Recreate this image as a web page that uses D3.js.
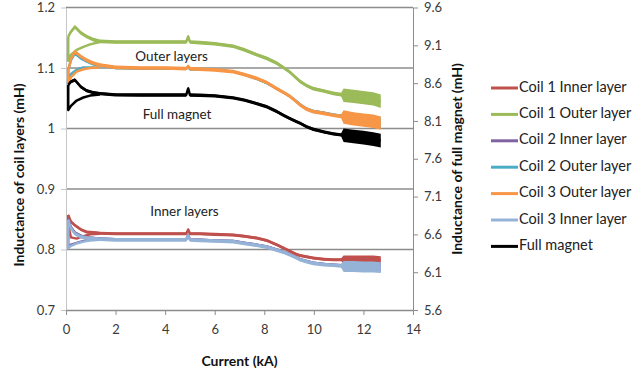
<!DOCTYPE html>
<html>
<head>
<meta charset="utf-8">
<script src="https://cdn.jsdelivr.net/npm/d3@7"></script>
<style>
  body { margin: 0; background: #fff; }
  svg { display: block; font-family: Lato, "Open Sans", sans-serif; }
</style>
</head>
<body>
<div id="chart"></div>
<script>
// current grid (kA) for the ramp branch, and for the low start-up branch
const current = [0.09, 0.2, 0.36, 0.6, 0.83, 1.1, 1.37, 2, 3, 4, 4.85, 4.93, 5.0, 5.4, 6, 6.75, 7.2, 7.69,
  8.1, 8.5, 8.8, 9.04, 9.3, 9.44, 9.7, 9.97, 10.4, 10.78, 11.1, 11.2, 11.6, 12.0, 12.4, 12.7];
const lowCurrent = [0.09, 0.2, 0.43, 0.7, 0.97, 1.37];
const noisyFrom = 11.15; // above this current the traces get much noisier

// coil layers (mH, left axis)
const coil1Inner = [0.857, 0.846, 0.840, 0.833, 0.829, 0.828, 0.827, 0.826, 0.826, 0.826, 0.826, 0.833, 0.826, 0.826,
  0.825, 0.824, 0.822, 0.819, 0.815, 0.808, 0.802, 0.797, 0.792, 0.790, 0.788, 0.786, 0.784, 0.783, 0.783, 0.784,
  0.784, 0.784, 0.784, 0.783];
const coil1InnerLow = [0.840, 0.820, 0.818, 0.822, 0.825, 0.826];

const coil1Outer = [1.152, 1.160, 1.168, 1.158, 1.152, 1.147, 1.144, 1.143, 1.143, 1.143, 1.143, 1.152, 1.143, 1.142,
  1.140, 1.136, 1.130, 1.122, 1.116, 1.108, 1.100, 1.093, 1.083, 1.078, 1.071, 1.066, 1.062, 1.058, 1.056, 1.055,
  1.053, 1.051, 1.049, 1.045];
const coil1OuterLow = [1.112, 1.122, 1.130, 1.135, 1.139, 1.143];

const coil2Inner = [0.851, 0.837, 0.828, 0.823, 0.820, 0.819, 0.818, 0.817, 0.817, 0.817, 0.817, 0.824, 0.817, 0.816,
  0.815, 0.814, 0.811, 0.808, 0.805, 0.800, 0.796, 0.792, 0.787, 0.784, 0.781, 0.778, 0.776, 0.775, 0.774, 0.773,
  0.773, 0.772, 0.772, 0.771];
const coil2InnerLow = [0.805, 0.808, 0.811, 0.814, 0.816, 0.817];

const coil2Outer = [1.097, 1.113, 1.124, 1.116, 1.111, 1.106, 1.104, 1.100, 1.099, 1.099, 1.099, 1.102, 1.098, 1.098,
  1.097, 1.094, 1.089, 1.082, 1.075, 1.066, 1.059, 1.053, 1.045, 1.040, 1.033, 1.029, 1.026, 1.023, 1.021, 1.020,
  1.017, 1.015, 1.013, 1.010];
const coil2OuterLow = [1.080, 1.090, 1.097, 1.101, 1.101, 1.101];

const coil3Outer = [1.095, 1.115, 1.127, 1.119, 1.113, 1.108, 1.105, 1.101, 1.100, 1.100, 1.099, 1.103, 1.099, 1.098,
  1.097, 1.094, 1.089, 1.083, 1.076, 1.066, 1.059, 1.053, 1.044, 1.039, 1.032, 1.028, 1.025, 1.022, 1.020, 1.019,
  1.016, 1.014, 1.012, 1.009];
const coil3OuterLow = [1.075, 1.085, 1.094, 1.098, 1.100, 1.101];

const coil3Inner = [0.849, 0.835, 0.826, 0.821, 0.819, 0.818, 0.817, 0.816, 0.816, 0.816, 0.816, 0.823, 0.816, 0.815,
  0.814, 0.813, 0.810, 0.807, 0.804, 0.799, 0.795, 0.791, 0.786, 0.783, 0.780, 0.777, 0.775, 0.774, 0.773, 0.772,
  0.772, 0.771, 0.771, 0.770];
const coil3InnerLow = [0.802, 0.806, 0.810, 0.813, 0.815, 0.816];

// full magnet (mH, right axis)
const fullMagnet = [8.575, 8.620, 8.641, 8.550, 8.500, 8.475, 8.462, 8.445, 8.443, 8.443, 8.443, 8.530, 8.443, 8.440,
  8.432, 8.405, 8.375, 8.330, 8.288, 8.225, 8.170, 8.130, 8.090, 8.070, 8.025, 7.990, 7.955, 7.930, 7.915, 7.910,
  7.895, 7.880, 7.860, 7.840];
const fullMagnetLow = [8.245, 8.300, 8.370, 8.410, 8.435, 8.450];

// half-width of the noise band [normal, noisy]
const coil1InnerSpread = [0.0025, 0.006];
const coil1OuterSpread = [0.003, 0.011];
const coil2InnerSpread = [0.002, 0.007];
const coil2OuterSpread = [0.002, 0.009];
const coil3OuterSpread = [0.003, 0.011];
const coil3InnerSpread = [0.003, 0.009];
const fullMagnetSpread = [0.022, 0.09];

const leftTicks = [0.7, 0.8, 0.9, 1.0, 1.1, 1.2];
const rightTicks = [5.6, 6.1, 6.6, 7.1, 7.6, 8.1, 8.6, 9.1, 9.6];
const xTicks = [0, 2, 4, 6, 8, 10, 12, 14];

const series = [
  { name: 'Coil 1 Inner layer', color: '#c0504d', axis: 'left', values: coil1Inner, low: coil1InnerLow, spread: coil1InnerSpread },
  { name: 'Coil 1 Outer layer', color: '#9bbb59', axis: 'left', values: coil1Outer, low: coil1OuterLow, spread: coil1OuterSpread },
  { name: 'Coil 2 Inner layer', color: '#8064a2', axis: 'left', values: coil2Inner, low: coil2InnerLow, spread: coil2InnerSpread },
  { name: 'Coil 2 Outer layer', color: '#4bacc6', axis: 'left', values: coil2Outer, low: coil2OuterLow, spread: coil2OuterSpread },
  { name: 'Coil 3 Outer layer', color: '#f79646', axis: 'left', values: coil3Outer, low: coil3OuterLow, spread: coil3OuterSpread },
  { name: 'Coil 3 Inner layer', color: '#95b3d7', axis: 'left', values: coil3Inner, low: coil3InnerLow, spread: coil3InnerSpread },
  { name: 'Full magnet', color: '#000000', axis: 'right', values: fullMagnet, low: fullMagnetLow, spread: fullMagnetSpread }
];

const width = 634;
const height = 375;
const margin = { top: 7.5, bottom: 65, left: 66, right: 221 };

const svg = d3.select('#chart')
  .append('svg')
  .attr('width', width)
  .attr('height', height);

const xScale = d3.scaleLinear().domain([0, 14]).range([margin.left, width - margin.right]);
const yLeft = d3.scaleLinear().domain([0.7, 1.2]).range([height - margin.bottom, margin.top]);
const yRight = d3.scaleLinear().domain([5.6, 9.6]).range([height - margin.bottom, margin.top]);

// gridlines
svg.append('g')
  .selectAll('line')
  .data(leftTicks.slice(1))
  .join('line')
  .attr('x1', margin.left)
  .attr('x2', width - margin.right)
  .attr('y1', d => yLeft(d))
  .attr('y2', d => yLeft(d))
  .attr('stroke', '#8c8c8c')
  .attr('stroke-width', 1.5);

// axes
const tickColor = '#3a3a3a';
const styleAxis = (g, lineColor) => {
  g.selectAll('path, line').attr('stroke', lineColor);
  g.selectAll('text').attr('font-size', 13).attr('fill', tickColor).attr('font-family', 'Lato, sans-serif');
};

svg.append('g')
  .attr('transform', `translate(${margin.left}, 0)`)
  .call(d3.axisLeft(yLeft).tickValues(leftTicks).tickFormat(d3.format('~g')).tickSizeInner(5).tickSizeOuter(0).tickPadding(6))
  .call(g => styleAxis(g, '#c6c6c6'));

svg.append('g')
  .attr('transform', `translate(${width - margin.right}, 0)`)
  .call(d3.axisRight(yRight).tickValues(rightTicks).tickFormat(d3.format('.1f')).tickSizeInner(5).tickSizeOuter(0).tickPadding(6))
  .call(g => styleAxis(g, '#8c8c8c'));

svg.append('g')
  .attr('transform', `translate(0, ${height - margin.bottom})`)
  .call(d3.axisBottom(xScale).tickValues(xTicks).tickSizeInner(5).tickSizeOuter(0).tickPadding(10))
  .call(g => styleAxis(g, '#8c8c8c'))
  .call(g => g.select('.domain').attr('stroke-width', 1.5));

// series
const plot = svg.append('g').attr('class', 'series');
series.forEach(s => {
  const y = s.axis === 'left' ? yLeft : yRight;
  const pts = current.map((c, i) => ({ c, v: s.values[i], w: c > noisyFrom ? s.spread[1] : s.spread[0] }));
  const lowPts = lowCurrent.map((c, i) => ({ c, v: s.low[i] })).reverse();

  plot.append('path')
    .datum(pts)
    .attr('fill', s.color)
    .attr('d', d3.area()
      .x(d => xScale(d.c))
      .y0(d => y(d.v - d.w))
      .y1(d => y(d.v + d.w)));

  plot.append('path')
    .datum(lowPts.concat([{ c: pts[0].c, v: pts[0].v }]))
    .attr('fill', 'none')
    .attr('stroke', s.color)
    .attr('stroke-width', 2.5)
    .attr('stroke-linejoin', 'round')
    .attr('d', d3.line().x(d => xScale(d.c)).y(d => y(d.v)));

  plot.append('path')
    .datum(pts)
    .attr('fill', 'none')
    .attr('stroke', s.color)
    .attr('stroke-width', 2.5)
    .attr('stroke-linejoin', 'round')
    .attr('d', d3.line().x(d => xScale(d.c)).y(d => y(d.v)));
});

// annotations
const notes = [
  { text: 'Outer layers', c: 4.26, v: 1.1165 },
  { text: 'Full magnet', c: 4.48, v: 1.022 },
  { text: 'Inner layers', c: 4.78, v: 0.861 }
];
svg.append('g')
  .selectAll('text')
  .data(notes)
  .join('text')
  .attr('x', d => xScale(d.c))
  .attr('y', d => yLeft(d.v))
  .attr('text-anchor', 'middle')
  .attr('dominant-baseline', 'middle')
  .attr('font-size', 13.5)
  .attr('fill', '#222')
  .text(d => d.text);

// axis titles
const titleSize = 14;
svg.append('text')
  .attr('transform', 'translate(20, 175) rotate(-90)')
  .attr('text-anchor', 'middle')
  .attr('dominant-baseline', 'middle')
  .attr('font-size', titleSize)
  .attr('font-weight', 700)
  .attr('fill', '#111')
  .text('Inductance of coil layers (mH)');

svg.append('text')
  .attr('transform', 'translate(458, 159) rotate(-90)')
  .attr('text-anchor', 'middle')
  .attr('dominant-baseline', 'middle')
  .attr('font-size', titleSize)
  .attr('font-weight', 700)
  .attr('fill', '#111')
  .text('Inductance of full magnet (mH)');

svg.append('text')
  .attr('x', 239.5)
  .attr('y', 362)
  .attr('text-anchor', 'middle')
  .attr('dominant-baseline', 'middle')
  .attr('font-size', titleSize)
  .attr('font-weight', 700)
  .attr('fill', '#111')
  .text('Current (kA)');

// legend
const legend = svg.append('g')
  .attr('transform', 'translate(491, 88)')
  .selectAll('g')
  .data(series)
  .join('g')
  .attr('transform', (d, i) => `translate(0, ${i * 26.4})`);
legend.append('line')
  .attr('x1', 0)
  .attr('x2', 27)
  .attr('stroke', d => d.color)
  .attr('stroke-width', 3);
legend.append('text')
  .attr('x', 28)
  .attr('dominant-baseline', 'middle')
  .attr('font-size', 14.5)
  .attr('fill', '#222')
  .text(d => d.name);
</script>
</body>
</html>
